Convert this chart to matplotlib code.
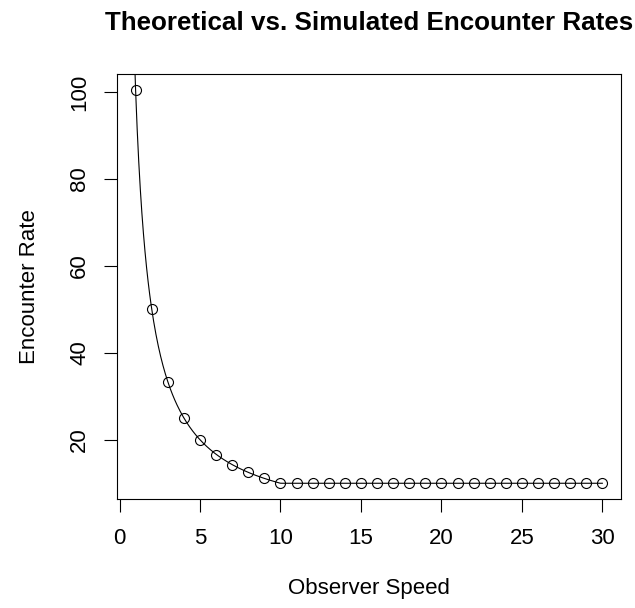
#!/usr/bin/env python3

import matplotlib
matplotlib.use('Agg')
import matplotlib.pyplot as plt
import numpy

# observer speeds and the simulated encounter rates
SPEEDS = list(range(1, 31))
SIM_RATES = [100.5, 50.0, 33.2, 24.9, 19.9, 16.6, 14.3, 12.5, 11.1, 10.0,
             10.0, 10.0, 10.0, 10.0, 10.0, 10.0, 10.0, 10.0, 10.0, 10.0,
             10.0, 10.0, 10.0, 10.0, 10.0, 10.0, 10.0, 10.0, 10.0, 10.0]

# theoretical model: rate = K / speed, floored at FLOOR
THEORY_K = 100.0
THEORY_FLOOR = 10.0
THEORY_START = 0.9
THEORY_STOP = 30.0

XTICKS = [0, 5, 10, 15, 20, 25, 30]
YTICKS = [20, 40, 60, 80, 100]


def main():
  plt.rcParams['font.family'] = ['Liberation Sans', 'DejaVu Sans']

  fig = plt.figure(figsize=(6.35, 6.08), dpi=100)
  ax = fig.add_axes([117 / 635, 1 - 499 / 608, 504 / 635, 425 / 608])

  xs = numpy.linspace(THEORY_START, THEORY_STOP, 600)
  theory = numpy.maximum(THEORY_K / xs, THEORY_FLOOR)
  ax.plot(xs, theory, color='black', lw=0.8)
  ax.plot(SPEEDS, SIM_RATES, linestyle='none', marker='o', markersize=7.2,
          markerfacecolor='none', markeredgecolor='black', markeredgewidth=0.8)

  # R style 4% padding around the data range
  xr = max(SPEEDS) - min(SPEEDS)
  yr = max(SIM_RATES) - min(SIM_RATES)
  ax.set_xlim(min(SPEEDS) - 0.04 * xr, max(SPEEDS) + 0.04 * xr)
  ax.set_ylim(min(SIM_RATES) - 0.04 * yr, max(SIM_RATES) + 0.04 * yr)

  ax.set_xticks(XTICKS)
  ax.set_yticks(YTICKS)
  ax.tick_params(axis='both', direction='out', length=9.7, width=0.8,
                 labelsize=16, color='black')
  ax.tick_params(axis='x', pad=11)
  ax.tick_params(axis='y', pad=9.5)
  for lab in ax.get_yticklabels():
    lab.set_rotation(90)
    lab.set_va('center')
  for sp in ax.spines.values():
    sp.set_linewidth(0.8)

  ax.set_xlabel('Observer Speed', fontsize=16, labelpad=21)
  ax.set_ylabel('Encounter Rate', fontsize=16, labelpad=20.8)
  ax.set_title('Theoretical vs. Simulated Encounter Rates', fontsize=18.7,
               fontweight='bold', pad=32)

  fig.savefig('out.png', dpi=100, facecolor='white')


if __name__ == '__main__':
  main()
